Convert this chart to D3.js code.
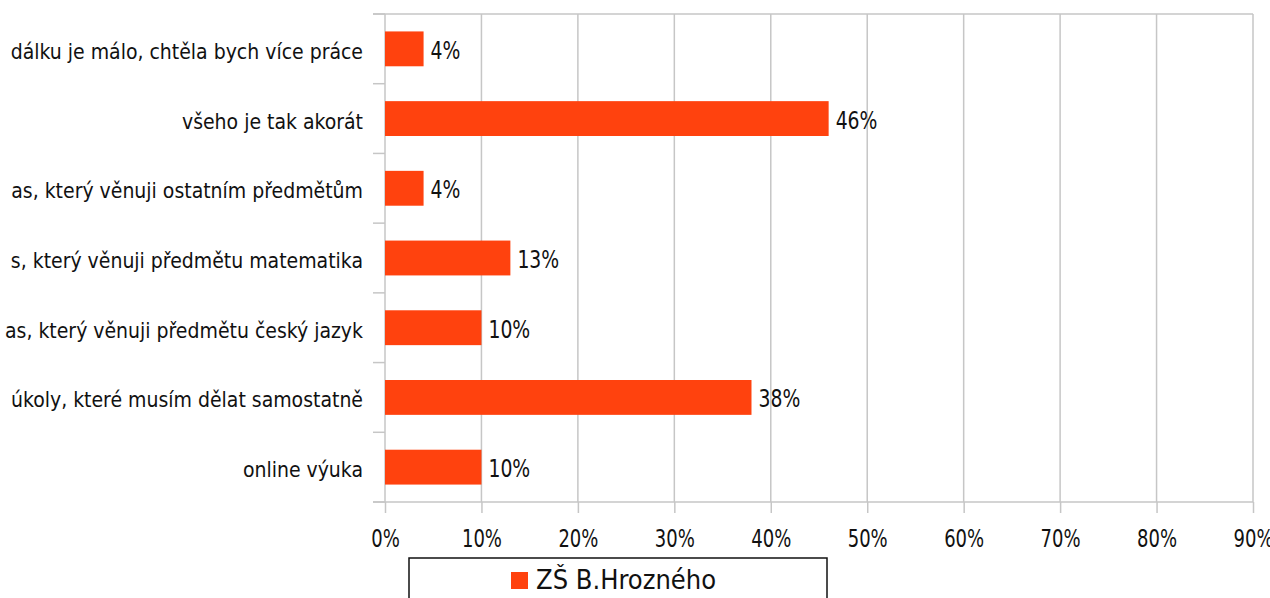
<!DOCTYPE html>
<html>
<head>
<meta charset="utf-8">
<script src="https://cdn.jsdelivr.net/npm/d3@7"></script>
<style>
  body { margin: 0; background: #fff; }
  text { font-family: "DejaVu Sans Condensed", "DejaVu Sans", sans-serif; fill: #111; }
</style>
</head>
<body>
<div id="chart"></div>
<script>
// data
var categories = [
  "dálku je málo, chtěla bych více práce",
  "všeho je tak akorát",
  "as, který věnuji ostatním předmětům",
  "s, který věnuji předmětu matematika",
  "as, který věnuji předmětu český jazyk",
  "úkoly, které musím dělat samostatně",
  "online výuka"
];
var values = [0.04, 0.46, 0.04, 0.13, 0.10, 0.38, 0.10];
var valueLabels = ["4%", "46%", "4%", "13%", "10%", "38%", "10%"];
var xTicks = [0, 0.1, 0.2, 0.3, 0.4, 0.5, 0.6, 0.7, 0.8, 0.9];
var seriesName = "ZŠ B.Hrozného";

var svgWidth = 1270;
var svgHeight = 598;

var chartMargin = { top: 14, right: 17, bottom: 96, left: 385 };
var chartWidth = svgWidth - chartMargin.left - chartMargin.right;
var chartHeight = svgHeight - chartMargin.top - chartMargin.bottom;

var barColor = "#ff420e";
var gridColor = "#c6c6c6";

var svg = d3.select("#chart")
  .append("svg")
  .attr("width", svgWidth)
  .attr("height", svgHeight);

var chartGroup = svg.append("g")
  .attr("transform", `translate(${chartMargin.left}, ${chartMargin.top})`);

var xScale = d3.scaleLinear()
  .domain([0, 0.9])
  .range([0, chartWidth]);

var yScale = d3.scaleBand()
  .domain(categories)
  .range([0, chartHeight])
  .paddingInner(0.5)
  .paddingOuter(0.25);

// band boundaries for category ticks
var step = chartHeight / categories.length;
var bounds = d3.range(categories.length + 1).map(i => i * step);

// vertical gridlines
chartGroup.selectAll(".grid")
  .data(xTicks)
  .enter()
  .append("line")
  .attr("x1", d => xScale(d))
  .attr("x2", d => xScale(d))
  .attr("y1", 0)
  .attr("y2", chartHeight)
  .attr("stroke", gridColor)
  .attr("stroke-width", 1.5);

// top border
chartGroup.append("line")
  .attr("x1", -12)
  .attr("x2", chartWidth)
  .attr("y1", 0)
  .attr("y2", 0)
  .attr("stroke", gridColor)
  .attr("stroke-width", 1.5);

// y-axis category ticks
chartGroup.selectAll(".ytick")
  .data(bounds)
  .enter()
  .append("line")
  .attr("x1", -12)
  .attr("x2", 0)
  .attr("y1", d => d)
  .attr("y2", d => d)
  .attr("stroke", gridColor)
  .attr("stroke-width", 1.5);

// x axis
var bottomAxis = d3.axisBottom(xScale)
  .tickValues(xTicks)
  .tickFormat(d3.format(".0%"))
  .tickSize(11)
  .tickPadding(16);

var xAxis = chartGroup.append("g")
  .attr("transform", `translate(0, ${chartHeight})`)
  .call(bottomAxis);

xAxis.select(".domain")
  .attr("stroke", gridColor)
  .attr("stroke-width", 1.5)
  .attr("d", `M-12,0H${chartWidth}`);
xAxis.selectAll(".tick line")
  .attr("stroke", gridColor)
  .attr("stroke-width", 1.5);
// narrow, tall figures like the original
xAxis.selectAll(".tick text")
  .attr("font-size", 25)
  .attr("fill", "#111")
  .attr("transform", "scale(0.8,1)")
  .style("font-family", "\"DejaVu Sans Condensed\", sans-serif");

// bars
chartGroup.selectAll(".bar")
  .data(values)
  .enter()
  .append("rect")
  .attr("x", 0)
  .attr("y", (d, i) => yScale(categories[i]))
  .attr("width", d => xScale(d))
  .attr("height", yScale.bandwidth())
  .attr("fill", barColor);

// value labels
chartGroup.selectAll(".vlabel")
  .data(values)
  .enter()
  .append("g")
  .attr("transform", (d, i) => `translate(${xScale(d) + 7}, ${yScale(categories[i]) + yScale.bandwidth() / 2 + 10})`)
  .append("text")
  .attr("transform", "scale(0.87,1)")
  .attr("font-size", 24)
  .text((d, i) => valueLabels[i]);

// category labels
chartGroup.selectAll(".clabel")
  .data(categories)
  .enter()
  .append("text")
  .attr("x", -22)
  .attr("y", d => yScale(d) + yScale.bandwidth() / 2 + 10)
  .attr("text-anchor", "end")
  .attr("font-size", 21)
  .text(d => d);

// legend
var legend = svg.append("g");
legend.append("rect")
  .attr("x", 409)
  .attr("y", 558)
  .attr("width", 418)
  .attr("height", 60)
  .attr("fill", "#fff")
  .attr("stroke", "#111")
  .attr("stroke-width", 1.5);
legend.append("rect")
  .attr("x", 511)
  .attr("y", 572)
  .attr("width", 17)
  .attr("height", 17)
  .attr("fill", barColor);
legend.append("text")
  .attr("x", 536)
  .attr("y", 589)
  .attr("font-size", 27)
  .text(seriesName);
</script>
</body>
</html>
